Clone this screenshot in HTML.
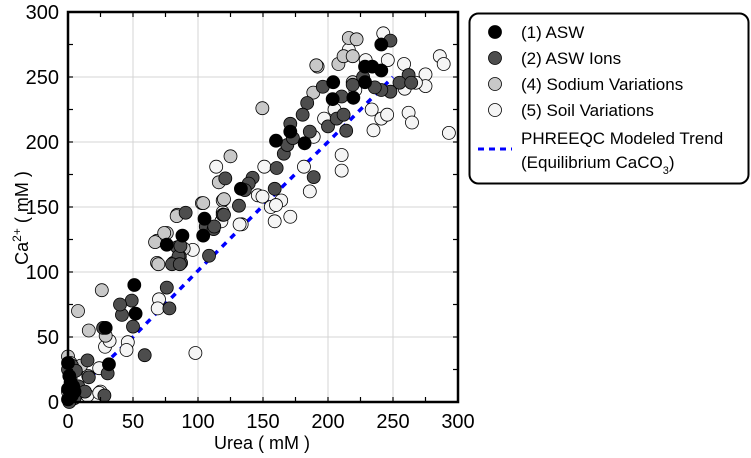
<!DOCTYPE html>
<html><head><meta charset="utf-8"><style>
body{margin:0;background:#fff;}
svg{display:block;font-family:"Liberation Sans",Arial,sans-serif;}
</style></head><body>
<svg id="chart" width="751" height="458" viewBox="0 0 751 458">
<g id="grid"></g>
<g id="trend"></g>
<g id="points"></g>
<g id="axes"></g>
<text x="262" y="449" text-anchor="middle" font-size="18">Urea ( mM )</text>
<text transform="translate(28,218) rotate(-90)" text-anchor="middle" font-size="18">Ca<tspan baseline-shift="super" font-size="12">2+</tspan> ( mM )</text>
<g>
<rect x="469.5" y="13.5" width="279" height="170" rx="9" fill="#fff" stroke="#000" stroke-width="2"/>
<g><circle cx="495" cy="32" r="6.5" fill="#000" stroke="#000" stroke-width="0.8"/><text x="521" y="38" font-size="17">(1) ASW</text></g>
<g><circle cx="495" cy="58" r="6.5" fill="#4d4d4d" stroke="#000" stroke-width="0.8"/><text x="521" y="64" font-size="17">(2) ASW Ions</text></g>
<g><circle cx="495" cy="84" r="6.5" fill="#c8c8c8" stroke="#000" stroke-width="0.8"/><text x="521" y="90" font-size="17">(4) Sodium Variations</text></g>
<g><circle cx="495" cy="110" r="6.5" fill="#f5f5f5" stroke="#000" stroke-width="0.8"/><text x="521" y="116" font-size="17">(5) Soil Variations</text></g>
<g><line x1="478" y1="149" x2="512" y2="149" stroke="#0000ff" stroke-width="3" stroke-dasharray="6,5"/><text x="521" y="144" font-size="17">PHREEQC Modeled Trend</text><text x="521" y="168" font-size="17">(Equilibrium CaCO<tspan baseline-shift="sub" font-size="11">3</tspan>)</text></g>
</g>
</svg>
<script>
const xTicks=[0,50,100,150,200,250,300];
const yTicks=[0,50,100,150,200,250,300];
const aswX=[0,0,3,1,5,0,4,2,29,31.5,51,52,76,88,105,104,133,160,171,182,241,204,203.6,219.5,228.5,234,241,228.5];
const aswY=[30,10,5,20,8,2,12,15,57,29,90,68,121,128,141,128,164,201,208,199,275,246,233,234,258,258,255,246];
const ionsX=[0,2,5,8,3,1,90.5,76,78,41.5,49,50,59,27,30.5,28,15,6,13,84,86,87,81,106,112,119,131.5,108.5,16,121,142,139,136,120,112.5,85,80,86,86.5,160.5,159,166,168.7,173,189,186,171,248,262,255,264,248,241,236,227,219,210.5,196,184,180.5,200,206.7,212,214,40];
const ionsY=[25,18,3,12,28,0,145.6,88,72,67,78,58,36,57,22,5,32,24,8,119,112,107,107,135,133,144,151,112.5,19,172,172.5,168,163,144,135,112,106,106,120,180,164,191,197.7,203,173,208,214,278,251.5,245.6,245.6,238.7,240,242,250,244,235,242.5,230,221,212,218,221,208.7,75];
const naX=[0,2,4,7.7,26,16,29,84,68.5,68.5,76,103,119,10,125,116,120,104,83.6,74,67,69.5,89,149.5,216,222,192,208,212,219,188.7,219,191];
const naY=[35,30,25,70,86,55,51,144,124,107,130,153,155,28,189,169,156,153,143,130,123,106,118,226,280,279,258,260,266,266,238,246,259];
const soilX=[0,3,6,15,25,70,69,96,98,28.5,32,46,45,133.6,24,24,15.6,119,114,151,146,156,164,159,171,132,181.5,186,118,242.5,216,229,246,258.5,286,289,275,275,259,267.6,233.6,241,245.5,262,264.6,235,293,197,205,221,189,210.5,210.5,149.6,160];
const soilY=[8,2,5,5,8,79,72,117,37.7,42.5,47,46,40,136.7,26,7,20,146,181,181,159,150,155,139,142.5,136.6,181,162,139,283.6,271,263,263,260,266,260,252,243,241,245.6,225,218,221,222.5,215,209,207,218,225,240,204,190,178,158,151.5];
const trendX=[0,10,50,100,150,200,250];
const trendY=[3,12,50,101,151,200,250];

const NS='http://www.w3.org/2000/svg';
const X0=68,X1=458,Y0=402,Y1=12;
function sx(u){return X0+(u/300)*(X1-X0);}
function sy(v){return Y0-(v/300)*(Y0-Y1);}
function mk(tag,attrs,parent){const e=document.createElementNS(NS,tag);for(const k in attrs)e.setAttribute(k,attrs[k]);parent.appendChild(e);return e;}
const grid=document.getElementById('grid'),axes=document.getElementById('axes'),pts=document.getElementById('points'),tr=document.getElementById('trend');
xTicks.forEach(t=>{
  if(t>0&&t<300){const l=mk('line',{x1:sx(t),x2:sx(t),y1:Y1,y2:Y0,stroke:'#d4d4d4','stroke-width':1},grid);
  
  }
  const tx=mk('text',{x:sx(t),y:428,'text-anchor':'middle','font-size':20},axes);tx.textContent=t;
  
  
});
yTicks.forEach(t=>{
  if(t>0&&t<300){const l=mk('line',{x1:X0,x2:X1,y1:sy(t),y2:sy(t),stroke:'#d4d4d4','stroke-width':1},grid);
  
  }
  const tx=mk('text',{x:59,y:sy(t)+7,'text-anchor':'end','font-size':20},axes);tx.textContent=t;
  
  
});
for(let t=0;t<=300;t+=25){
  mk('line',{x1:sx(t),x2:sx(t),y1:Y0,y2:Y0-5,stroke:'#000','stroke-width':1.2},axes);
  mk('line',{x1:sx(t),x2:sx(t),y1:Y1,y2:Y1+5,stroke:'#000','stroke-width':1.2},axes);
  mk('line',{x1:X0,x2:X0+5,y1:sy(t),y2:sy(t),stroke:'#000','stroke-width':1.2},axes);
  mk('line',{x1:X1,x2:X1-5,y1:sy(t),y2:sy(t),stroke:'#000','stroke-width':1.2},axes);
}
const frame=mk('rect',{x:X0,y:Y1,width:X1-X0,height:Y0-Y1,fill:'none',stroke:'#000','stroke-width':2.5},axes);


let d='';trendX.forEach((u,i)=>{d+=(i?'L':'M')+sx(u)+','+sy(trendY[i]);});
const tl=mk('path',{d:d,fill:'none',stroke:'#0000ff','stroke-width':3.5,'stroke-dasharray':'6,6'},tr);


function series(xs,ys,fill,name){
  const g=mk('g',{},pts);
  
  
  xs.forEach((u,i)=>{const c=mk('circle',{cx:sx(u),cy:sy(ys[i]),r:6.5,fill:fill,stroke:'#000','stroke-width':0.8},g);
    
    });
}
series(soilX,soilY,'#f5f5f5','soil-variations');
series(naX,naY,'#c8c8c8','sodium-variations');
series(ionsX,ionsY,'#4d4d4d','asw-ions');
series(aswX,aswY,'#000000','asw');
</script>
</body></html>
